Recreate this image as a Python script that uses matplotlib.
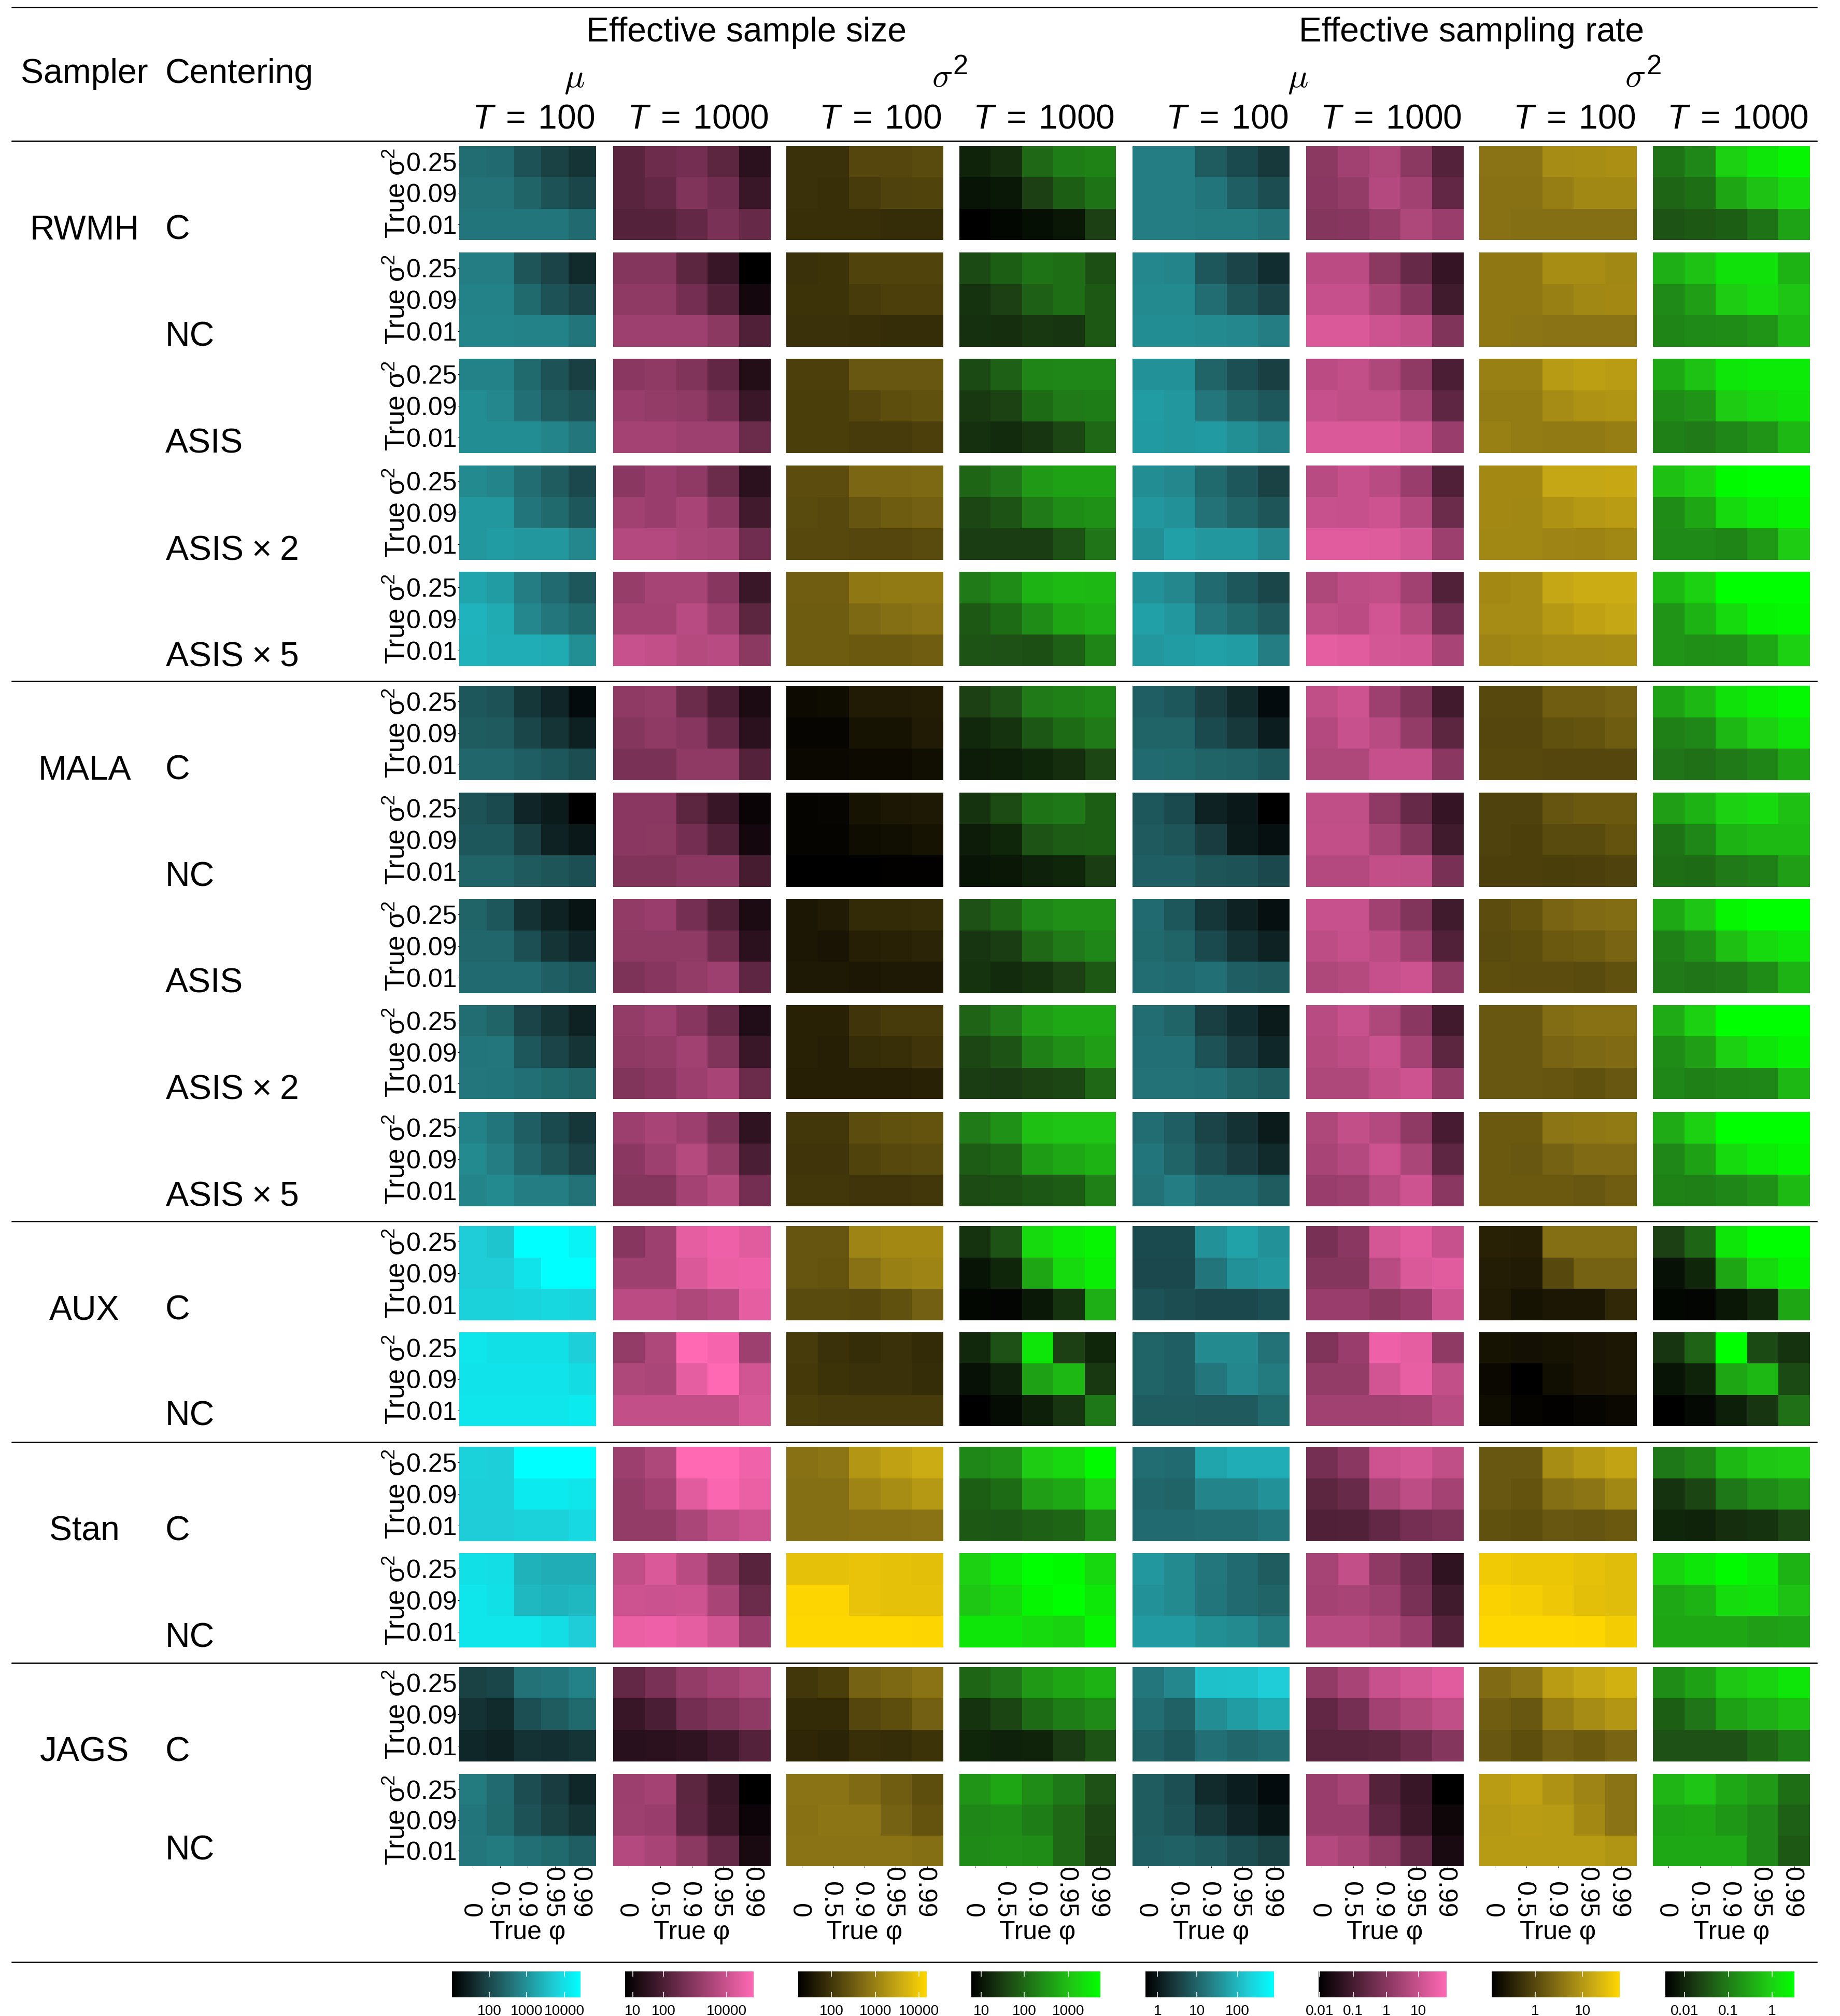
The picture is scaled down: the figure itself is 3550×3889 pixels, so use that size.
"""
Effective sample size and sampling rate per sampler, centering and true parameters.
"""

import numpy as np
import matplotlib
matplotlib.use("Agg")
import matplotlib.pyplot as plt
from matplotlib.colors import LinearSegmentedColormap
from matplotlib.lines import Line2D
from matplotlib.transforms import ScaledTranslation

# ----------------------------------------------------------
# Data: position on the colour scale (0-100), one line per
# column of the figure, rows sigma2 = .25, .09, .01, columns
# phi = 0, .5, .9, .95, .99
# ----------------------------------------------------------

rwmh_c = [
    [44,43,33,26,21, 46,46,40,33,28, 47,47,47,47,43],
    [35,43,45,36,17, 35,39,50,44,23, 33,33,39,48,40],
    [23,23,33,33,35, 23,22,28,31,32, 22,22,22,21,21],
    [14,18,41,49,51, 8,10,25,37,45, 0,3,6,9,25],
    [50,50,37,30,23, 50,50,47,38,31, 50,50,49,49,46],
    [55,63,68,55,33, 54,58,70,63,38, 52,53,59,68,60],
    [54,54,65,66,67, 53,53,59,63,63, 53,52,52,52,52],
    [45,53,82,90,96, 40,43,65,76,85, 33,35,37,45,64],
]
rwmh_nc = [
    [50,50,34,27,17, 52,52,42,33,27, 53,53,52,52,47],
    [52,52,36,22,0, 56,56,45,32,8, 62,62,62,55,31],
    [23,24,32,32,32, 24,24,28,30,30, 23,23,22,21,21],
    [29,37,45,43,31, 20,25,38,43,35, 19,18,22,21,35],
    [54,53,35,27,18, 55,55,44,34,27, 56,56,55,54,50],
    [73,73,55,40,21, 77,77,66,53,25, 85,85,80,76,50],
    [56,56,66,66,63, 56,56,60,63,64, 56,55,54,54,54],
    [68,76,88,88,70, 54,62,80,85,77, 52,54,55,58,72],
]
rwmh_asis = [
    [52,52,42,33,25, 56,54,45,37,33, 56,56,56,53,48],
    [54,56,50,38,14, 60,58,56,46,23, 64,64,62,62,42],
    [30,30,41,41,41, 29,29,33,37,38, 29,29,28,28,30],
    [29,38,52,53,53, 22,26,42,48,49, 19,17,21,28,41],
    [58,58,40,32,25, 62,60,48,40,35, 61,60,61,57,52],
    [73,76,68,56,30, 77,75,75,65,37, 85,85,85,81,60],
    [60,60,72,74,73, 58,58,65,68,69, 60,58,57,57,59],
    [66,76,90,92,92, 55,58,80,84,88, 50,48,53,58,72],
]
rwmh_asis2 = [
    [55,53,44,37,29, 60,60,47,42,35, 60,62,60,60,54],
    [54,60,56,42,17, 63,60,66,54,26, 70,70,67,65,44],
    [36,36,48,48,49, 35,34,40,43,45, 34,34,33,33,35],
    [40,46,60,63,63, 28,33,48,55,57, 24,24,24,32,46],
    [56,54,42,35,26, 60,58,46,40,34, 57,63,60,60,54],
    [72,77,72,60,31, 78,77,80,70,42, 88,88,87,83,61],
    [64,64,77,77,78, 64,63,68,71,73, 63,63,62,61,63],
    [75,82,98,100,100, 55,65,85,92,96, 54,54,52,60,80],
]
rwmh_asis5 = [
    [65,62,50,43,35, 71,67,54,48,42, 70,68,68,67,57],
    [59,65,65,53,23, 64,64,72,61,36, 78,76,71,72,55],
    [44,44,56,57,57, 43,43,49,52,54, 43,43,42,42,44],
    [48,55,70,73,72, 35,42,55,65,68, 33,32,31,38,52],
    [58,54,43,35,28, 63,60,48,42,36, 60,62,63,62,50],
    [68,74,75,63,32, 75,73,82,71,46, 90,88,83,82,66],
    [64,65,77,80,80, 65,65,71,75,77, 62,63,65,65,66],
    [72,82,100,100,100, 58,70,85,95,97, 58,56,57,66,82],
]
mala_c = [
    [35,33,22,15,5, 37,36,28,21,13, 41,41,38,35,31],
    [56,58,42,30,11, 52,56,53,38,17, 48,48,56,56,33],
    [5,6,13,13,14, 3,3,9,9,13, 4,4,5,5,7],
    [25,32,48,50,53, 16,20,34,42,48, 11,12,15,18,28],
    [38,35,25,17,5, 40,40,30,23,12, 43,42,40,39,35],
    [75,80,62,50,26, 70,78,72,58,36, 68,68,77,77,54],
    [34,34,44,44,46, 33,33,38,39,43, 34,34,33,33,33],
    [63,72,88,93,97, 50,53,72,82,90, 46,44,48,52,65],
]
mala_nc = [
    [33,30,15,11,0, 35,35,25,14,10, 40,40,36,34,32],
    [54,54,36,22,4, 54,55,45,32,8, 50,50,54,54,27],
    [2,3,9,11,12, 2,2,6,7,9, 0,0,0,1,1],
    [20,30,45,47,37, 11,15,33,36,37, 8,9,13,15,24],
    [35,30,14,10,0, 36,34,24,11,7, 38,38,34,33,29],
    [75,75,56,40,21, 76,76,65,52,25, 70,70,76,75,47],
    [31,31,40,42,42, 31,30,35,35,39, 30,30,29,30,31],
    [62,70,82,85,75, 45,53,70,73,73, 43,42,48,50,62],
]
mala_asis = [
    [40,35,20,14,8, 41,41,32,21,15, 43,43,43,38,35],
    [57,60,46,32,11, 56,56,56,43,17, 49,53,58,62,37],
    [11,13,20,20,21, 11,10,15,16,17, 12,12,11,12,12],
    [32,40,53,56,56, 21,24,41,48,53, 20,17,20,25,35],
    [43,35,22,14,7, 42,40,30,20,14, 44,43,45,38,36],
    [78,78,63,51,25, 74,77,73,62,32, 68,71,77,80,56],
    [36,39,47,50,51, 35,37,42,43,47, 37,36,36,35,38],
    [66,77,96,100,100, 50,57,75,85,90, 48,46,48,55,70],
]
mala_asis2 = [
    [44,40,27,21,14, 47,48,35,27,21, 48,47,45,42,40],
    [58,62,53,40,13, 56,58,63,50,23, 51,54,61,66,42],
    [16,16,25,28,28, 16,15,21,22,25, 15,15,15,15,16],
    [39,48,62,66,66, 28,33,50,56,62, 24,23,26,28,41],
    [44,40,25,18,11, 45,45,33,24,16, 46,46,45,40,37],
    [72,78,68,54,26, 71,74,79,64,36, 68,68,76,80,57],
    [41,41,51,53,53, 41,41,47,49,50, 41,41,40,38,41],
    [67,82,100,100,100, 55,62,82,90,95, 53,50,52,53,72],
]
mala_asis5 = [
    [52,47,38,30,22, 55,50,41,34,27, 53,55,50,50,46],
    [61,66,61,48,19, 54,62,71,58,29, 52,52,64,71,45],
    [26,26,36,38,39, 25,25,32,34,35, 26,26,25,25,26],
    [48,57,75,77,77, 36,40,61,66,70, 30,31,34,36,50],
    [44,38,27,20,11, 47,40,31,24,17, 46,50,43,43,37],
    [68,76,70,56,28, 66,70,80,67,37, 60,62,72,80,54],
    [42,42,55,56,57, 42,41,46,50,50, 42,42,42,41,44],
    [67,82,100,100,100, 53,63,85,92,96, 51,50,53,57,73],
]
aux_c = [
    [80,77,100,100,95, 80,80,89,100,100, 82,82,83,84,83],
    [53,62,90,93,88, 62,62,85,92,93, 73,73,68,72,90],
    [40,40,62,64,64, 40,39,53,60,62, 35,35,34,38,45],
    [20,33,85,92,96, 8,15,65,85,93, 3,2,10,20,68],
    [30,30,58,64,58, 29,29,47,58,60, 33,31,29,29,32],
    [47,54,83,88,78, 52,52,72,85,88, 60,60,55,60,80],
    [16,15,52,52,52, 14,13,34,46,46, 13,9,11,11,19],
    [25,40,90,100,100, 7,15,65,85,95, 3,2,9,16,65],
]
aux_nc = [
    [90,88,88,88,81, 89,89,89,89,86, 90,90,90,90,92],
    [58,68,100,96,62, 68,67,90,100,82, 76,76,76,76,84],
    [28,23,21,23,20, 27,24,23,23,21, 29,28,28,28,28],
    [16,32,90,25,15, 7,13,63,72,22, 0,5,12,21,47],
    [40,38,55,55,46, 40,38,48,54,49, 37,37,36,36,42],
    [50,60,93,90,56, 58,58,82,91,76, 63,63,63,64,72],
    [9,8,9,10,11, 4,0,7,10,11, 6,2,1,3,4],
    [21,39,100,29,20, 8,14,65,72,29, 0,4,12,21,44],
]
stan_c = [
    [82,81,100,100,100, 81,81,92,92,90, 80,80,82,82,85],
    [61,68,100,100,94, 58,63,88,98,92, 58,58,67,75,80],
    [53,55,70,75,80, 52,52,62,66,71, 52,52,53,53,54],
    [53,57,80,84,98, 37,42,62,66,82, 35,34,38,40,55],
    [44,43,65,68,68, 41,40,53,53,58, 43,43,44,44,47],
    [46,54,80,83,75, 36,41,66,74,64, 31,32,39,46,49],
    [41,41,66,71,76, 41,39,52,55,63, 38,37,41,40,42],
    [47,52,72,78,80, 20,27,47,55,60, 15,14,18,20,28],
]
stan_nc = [
    [88,87,70,68,68, 90,88,72,71,72, 90,90,90,87,80],
    [75,85,72,55,34, 80,79,80,66,42, 92,93,90,82,60],
    [90,90,91,90,89, 99,99,91,90,90, 100,100,100,100,99],
    [82,92,100,98,84, 78,84,96,100,91, 90,90,85,83,96],
    [60,55,48,43,37, 58,55,47,43,40, 61,61,57,55,49],
    [65,76,56,44,19, 64,66,62,48,25, 72,72,68,60,33],
    [94,92,92,90,88, 98,96,93,89,88, 100,100,100,99,95],
    [83,90,98,92,70, 66,70,86,88,76, 65,65,65,62,64],
]
jags_c = [
    [26,28,46,47,52, 20,17,32,37,42, 16,14,20,19,21],
    [39,48,58,63,68, 22,29,45,50,56, 16,17,19,24,33],
    [26,29,46,49,54, 20,20,33,37,45, 18,17,22,21,24],
    [40,46,60,65,70, 20,27,42,49,54, 15,13,14,23,33],
    [48,54,75,76,80, 44,39,56,62,67, 39,35,45,41,44],
    [57,66,78,83,88, 38,46,63,69,75, 35,35,36,43,52],
    [50,55,73,77,82, 44,41,59,65,70, 41,37,45,42,47],
    [55,63,78,83,90, 37,46,63,68,74, 32,32,32,40,49],
]
jags_nc = [
    [49,43,31,24,16, 47,42,33,26,21, 48,49,45,42,38],
    [61,64,36,22,0, 62,60,37,24,5, 70,66,55,39,10],
    [54,54,50,44,37, 53,55,55,46,39, 54,54,54,54,52],
    [58,65,55,47,32, 53,55,49,41,28, 54,56,55,41,26],
    [37,32,17,12,5, 37,33,23,15,9, 38,39,36,31,26],
    [60,65,33,22,0, 60,60,37,24,6, 70,66,56,39,10],
    [73,75,68,62,54, 71,73,72,64,54, 72,72,72,72,69],
    [71,77,66,60,43, 64,65,59,53,38, 66,66,66,53,35],
]

rows = [
    rwmh_c, rwmh_nc, rwmh_asis, rwmh_asis2, rwmh_asis5,
    mala_c, mala_nc, mala_asis, mala_asis2, mala_asis5,
    aux_c, aux_nc, stan_c, stan_nc, jags_c, jags_nc,
]
samplers = ["RWMH", None, None, None, None, "MALA", None, None, None, None,
            "AUX", None, "Stan", None, "JAGS", None]
asis2 = r"ASIS$\hspace{0.09}\times\hspace{0.09}$2"
asis5 = r"ASIS$\hspace{0.09}\times\hspace{0.09}$5"
centerings = ["C", "NC", "ASIS", asis2, asis5,
              "C", "NC", "ASIS", asis2, asis5,
              "C", "NC", "C", "NC", "C", "NC"]
phi_labels = ["0", "0.5", "0.9", "0.95", "0.99"]
sigma_labels = ["0.25", "0.09", "0.01"]
t_labels = [100, 1000, 100, 1000, 100, 1000, 100, 1000]

# colour-scale position of each colour bar tick
bar_ticks = [
    [29, 58, 87.5], [6, 30, 79], [26, 60, 94], [7.7, 41, 75],
    [9.4, 40, 71.6], [1, 27, 53, 78], [34, 71], [15, 49, 83],
]
bar_labels = [
    ["100", "1000", "10000"], ["10", "100", "10000"],
    ["100", "1000", "10000"], ["10", "100", "1000"],
    ["1", "10", "100"], ["0.01", "0.1", "1", "10"],
    ["1", "10"], ["0.01", "0.1", "1"],
]

# ----------------------------------------------------------
# Layout, in pixels of the final picture
# ----------------------------------------------------------

W, H = 3550, 3889
DPI = 300

col_left = [886, 1183, 1517, 1851, 2185, 2520, 2854, 3189]
col_right = [1150, 1486, 1819, 2153, 2488, 2823, 3158, 3492]
row_top = [282, 487, 692, 898, 1103, 1323, 1529, 1734, 1939, 2145,
           2365, 2570, 2791, 2996, 3216, 3422]
row_bottom = [463, 669, 874, 1080, 1285, 1505, 1711, 1916, 2120, 2327,
              2547, 2751, 2973, 3178, 3398, 3600]
rule_y = [14, 272, 1314, 2356, 2782, 3208, 3785]
bar_left = [872, 1206, 1540, 1874, 2210, 2544, 2878, 3213]
bar_right = [1120, 1454, 1788, 2123, 2458, 2791, 3125, 3461]
bar_top, bar_bottom = 3803, 3853


def pts(px):
    return px * 72 / DPI


def fx(px):
    return px / W


def fy(px):
    return 1 - px / H


BIG = pts(66)
SMALL = pts(50)
TINY = pts(28)

plt.rcParams["font.family"] = ["Liberation Sans", "DejaVu Sans"]
plt.rcParams["mathtext.fontset"] = "custom"
plt.rcParams["mathtext.rm"] = "Liberation Sans"
plt.rcParams["mathtext.it"] = "Liberation Sans:italic"
plt.rcParams["mathtext.bf"] = "Liberation Sans:bold"

cyan = LinearSegmentedColormap.from_list("c", [
    (0, "#000000"), (0.25, "#1a3f42"), (0.5, "#247d82"),
    (0.8, "#1ecdd7"), (1, "#00ffff")])
pink = LinearSegmentedColormap.from_list("m", [
    (0, "#000000"), (0.5, "#80345a"), (1, "#ff69b4")])
gold = LinearSegmentedColormap.from_list("g", [
    (0, "#000000"), (0.5, "#806b14"), (0.8, "#ccac14"), (1, "#ffd700")])
green = LinearSegmentedColormap.from_list("n", [
    (0, "#000000"), (0.25, "#1c4014"), (0.5, "#208018"),
    (0.8, "#1ecc14"), (1, "#00ff00")])
col_cmaps = [cyan, pink, gold, green, cyan, pink, gold, green]

fig = plt.figure(figsize=(W / DPI, H / DPI), dpi=DPI)

# rotated tick labels sit off centre because of the font descent
phi_shift = ScaledTranslation(-6 / DPI, 0, fig.dpi_scale_trans)

# ----------------------------------------------------------
# Heat maps
# ----------------------------------------------------------

for r, row in enumerate(rows):
    for c, values in enumerate(row):
        ax = fig.add_axes([
            fx(col_left[c]), fy(row_bottom[r]),
            fx(col_right[c] - col_left[c]),
            (row_bottom[r] - row_top[r]) / H,
        ])
        ax.imshow(np.array(values).reshape(3, 5), cmap=col_cmaps[c],
                  vmin=0, vmax=100, aspect="auto", interpolation="nearest")
        for side in ax.spines.values():
            side.set_visible(False)
        ax.set_xticks([])
        ax.set_yticks([])

        if c == 0:
            ax.tick_params(axis="y", length=pts(3), width=pts(1), pad=pts(1))
            ax.set_yticks(range(3))
            ax.set_yticklabels(sigma_labels, fontsize=SMALL)

        if r == len(rows) - 1:
            ax.tick_params(axis="x", length=pts(3), width=pts(1),
                           pad=pts(3697 - row_bottom[r]))
            ax.set_xticks(range(5))
            ax.set_xticklabels(phi_labels, fontsize=SMALL, rotation=270,
                               va="bottom", ha="center")
            for lab in ax.get_xticklabels():
                lab.set_transform(lab.get_transform() + phi_shift)
            fig.text(fx((col_left[c] + col_right[c]) / 2), fy(3741), "True φ",
                     fontsize=SMALL, ha="center", va="baseline")

    fig.text(fx(767), fy((row_top[r] + row_bottom[r]) / 2), r"True σ$^{2}$",
             fontsize=pts(52), rotation=90, ha="center", va="center")

    # last row sits a bit higher against its shorter panel
    base = 3587 if r == len(rows) - 1 else row_bottom[r] - 1
    fig.text(fx(319), fy(base), centerings[r],
             fontsize=BIG, ha="left", va="baseline")
    if samplers[r]:
        fig.text(fx(163), fy(base), samplers[r],
                 fontsize=BIG, ha="center", va="baseline")

# ----------------------------------------------------------
# Header
# ----------------------------------------------------------

fig.text(fx(40), fy(160), "Sampler", fontsize=BIG, va="baseline")
fig.text(fx(319), fy(160), "Centering", fontsize=BIG, va="baseline")
fig.text(fx(1440), fy(80), "Effective sample size", fontsize=BIG,
         ha="center", va="baseline")
fig.text(fx(2839), fy(80), "Effective sampling rate", fontsize=BIG,
         ha="center", va="baseline")

for x in [1108, 2504]:
    fig.text(fx(x), fy(167), r"$\mu$", fontsize=BIG, ha="center",
             va="baseline", math_fontfamily="cm")
for x, x2 in [(1818, 1853), (3155, 3191)]:
    fig.text(fx(x), fy(167), r"$\sigma$", fontsize=BIG, ha="center",
             va="baseline", math_fontfamily="cm")
    fig.text(fx(x2), fy(143), "2", fontsize=pts(53), ha="center", va="baseline")

for c, t in enumerate(t_labels):
    fig.text(fx(col_right[c] - 3), fy(247),
             rf"$T\,\hspace{{0.07}}=\,\hspace{{0.07}}{t}$", fontsize=BIG,
             ha="right", va="baseline")

for y in rule_y:
    fig.add_artist(Line2D([fx(23), fx(3505)], [fy(y), fy(y)], color="black",
                          lw=pts(2.5), transform=fig.transFigure))

# ----------------------------------------------------------
# Colour bars
# ----------------------------------------------------------

for c in range(8):
    ax = fig.add_axes([
        fx(bar_left[c]), fy(bar_bottom),
        fx(bar_right[c] - bar_left[c]), (bar_bottom - bar_top) / H,
    ])
    ax.imshow(np.linspace(0, 100, 256).reshape(1, -1), cmap=col_cmaps[c],
              vmin=0, vmax=100, aspect="auto", extent=(0, 100, 0, 1))
    for side in ax.spines.values():
        side.set_visible(False)
    ax.set_yticks([])
    ax.tick_params(axis="x", direction="in", top=True, bottom=True,
                   length=pts(10), width=pts(1.5), color="white",
                   pad=pts(14))
    ax.set_xticks(bar_ticks[c])
    ax.set_xticklabels(bar_labels[c], fontsize=TINY)

fig.savefig("out.png", dpi=DPI)
plt.close(fig)
